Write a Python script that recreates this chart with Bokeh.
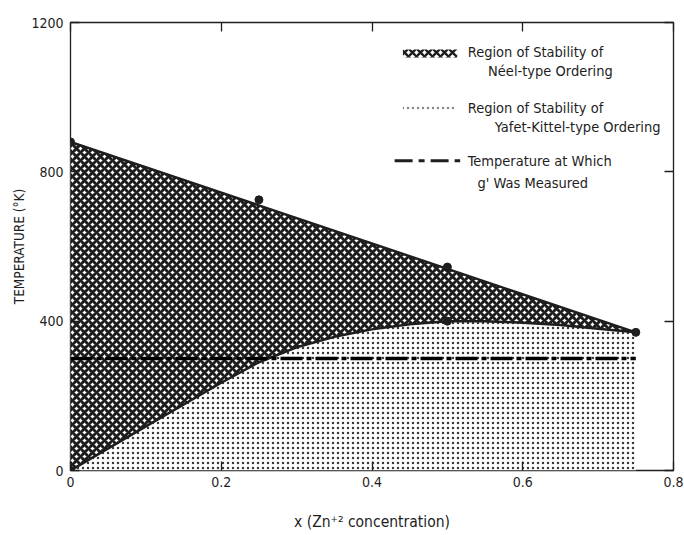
from bokeh.plotting import figure
from bokeh.models import LinearAxis, FixedTicker, Range1d
from bokeh.core.properties import value
from bokeh.embed import file_html
from bokeh.resources import INLINE

# ---- data ----
upper_x = [0.0, 0.25, 0.5, 0.75]          # Néel/paramagnetic boundary (measured points)
upper_T = [880, 725, 545, 370]
lower_x = [0.0, 0.1, 0.2, 0.25, 0.3, 0.35, 0.4, 0.45, 0.5, 0.55, 0.6, 0.65, 0.7, 0.75]
lower_T = [0, 118, 235, 290, 330, 358, 378, 392, 400, 400, 396, 390, 380, 370]
lower_pts_x = [0.0, 0.5]                  # measured points on lower curve
lower_pts_T = [0, 400]
measure_x = [0.0, 0.75]                   # temperature at which g' was measured
measure_T = [300, 300]

x_ticks = [0, 0.2, 0.4, 0.6, 0.8]
x_tick_labels = ["0", "0.2", "0.4", "0.6", "0.8"]
y_ticks = [0, 400, 800, 1200]
y_tick_labels = ["0", "400", "800", "1200"]

legend_text = ["Region of Stability of", "Néel-type Ordering",
               "Region of Stability of", "Yafet-Kittel-type Ordering",
               "Temperature at Which", "g' Was Measured"]

FONT = "'Liberation Sans Narrow', 'DejaVu Sans Condensed', 'Liberation Sans', sans-serif"
INK = "#1e1e1e"

p = figure(width=684, height=535, output_backend="svg", toolbar_location=None,
           x_range=Range1d(0, 0.8), y_range=Range1d(0, 1200),
           min_border_left=70, min_border_right=11, min_border_top=22, min_border_bottom=65,
           x_axis_label="x (Zn⁺² concentration)", y_axis_label="TEMPERATURE (°K)")
p.xgrid.visible = False
p.ygrid.visible = False
p.outline_line_color = INK
p.outline_line_width = 1.3
p.background_fill_color = "white"
p.border_fill_color = "white"

def style_axis(ax, ticks, labels, show_labels=True):
    ax.ticker = FixedTicker(ticks=ticks)
    ax.major_label_overrides = {t: l for t, l in zip(ticks, labels)}
    ax.axis_line_color = None
    ax.major_tick_in = 9
    ax.major_tick_out = 0
    ax.major_tick_line_color = INK
    ax.major_tick_line_width = 1.3
    ax.minor_tick_line_color = None
    ax.major_label_text_font = FONT
    ax.major_label_text_font_size = "14px"
    ax.major_label_text_color = INK if show_labels else None
    ax.axis_label_text_font = FONT
    ax.axis_label_text_font_style = "normal"
    ax.axis_label_text_color = INK

style_axis(p.xaxis[0], x_ticks, x_tick_labels)
style_axis(p.yaxis[0], y_ticks, y_tick_labels)
p.xaxis[0].major_label_standoff = 6
p.xaxis[0].axis_label_text_font_size = "15.5px"
p.xaxis[0].axis_label_standoff = 23
p.yaxis[0].major_label_standoff = 7
p.yaxis[0].axis_label_text_font_size = "13.5px"
p.yaxis[0].axis_label_standoff = 1

top = LinearAxis()
style_axis(top, x_ticks, x_tick_labels, show_labels=False)
top.major_label_text_font_size = "0px"
p.add_layout(top, "above")
right = LinearAxis()
style_axis(right, y_ticks, y_tick_labels, show_labels=False)
right.major_label_text_font_size = "0px"
p.add_layout(right, "right")

# Yafet-Kittel region (dotted) under the lower curve
yk_x = lower_x + [lower_x[-1]]
yk_y = lower_T + [0]
p.patch(yk_x, yk_y, fill_color="white", line_color=None,
        hatch_pattern="dot", hatch_scale=5, hatch_weight=2.6, hatch_color="#3a3a3a")

# Néel region (cross-hatched) between the two boundaries
neel_x = [upper_x[0], upper_x[-1]] + lower_x[::-1]
neel_y = [upper_T[0], upper_T[-1]] + lower_T[::-1]
p.patch(neel_x, neel_y, fill_color="white", line_color=None,
        hatch_pattern="diagonal_cross", hatch_scale=8, hatch_weight=3.0, hatch_color=INK)

# boundaries
p.line([upper_x[0], upper_x[-1]], [upper_T[0], upper_T[-1]], line_color=INK, line_width=2.5)
p.line(lower_x, lower_T, line_color=INK, line_width=2.5)
p.line(measure_x, measure_T, line_color="black", line_width=3.5, line_dash="22 4 5 4")
p.scatter(upper_x, upper_T, size=8, color=INK)
p.scatter(lower_pts_x, lower_pts_T, size=8, color=INK)

# legend (drawn by hand)
p.quad(left=[0.441], right=[0.513], bottom=[1106], top=[1128], fill_color="white", line_color=None,
       hatch_pattern="diagonal_cross", hatch_scale=8, hatch_weight=2.4, hatch_color=INK)
p.quad(left=[0.441], right=[0.510], bottom=[962], top=[978], fill_color="white", line_color=None,
       hatch_pattern="dot", hatch_scale=5, hatch_weight=1.6, hatch_color="#888888")
p.line([0.430, 0.517], [830, 830], line_color=INK, line_width=3, line_dash="18 6 6 6")

lx = [0.527, 0.554, 0.527, 0.563, 0.527, 0.540]
ly = [1120, 1071, 970, 919, 830, 769]
p.text(x=lx, y=ly, text=legend_text, text_font=value(FONT), text_font_size="14.5px",
       text_baseline="middle", text_align="left", text_color=INK)

open("out.html", "w").write(file_html(p, INLINE))
